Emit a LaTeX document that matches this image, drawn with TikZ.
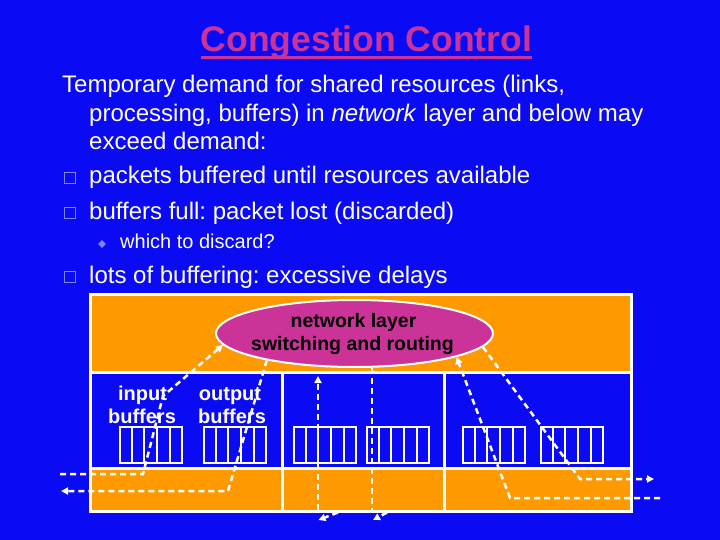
\documentclass[tikz,border=0pt]{standalone}
\usepackage{fontspec}
\setmainfont{Liberation Sans}
\usetikzlibrary{arrows.meta,shapes.geometric,calc}
\definecolor{bg}{RGB}{10,10,245}
\definecolor{orng}{RGB}{255,153,0}
\definecolor{mag}{RGB}{204,51,153}
\definecolor{bul}{RGB}{130,130,255}
\frenchspacing
\begin{document}
\begin{tikzpicture}[x=1pt,y=-1pt,
  txt/.style={anchor=base west, inner sep=0, text=white, font=\fontsize{24}{28}\selectfont},
  subtxt/.style={txt, font=\fontsize{20}{24}\selectfont},
  sq/.style={rectangle, draw=bul, line width=1.4pt, minimum size=10.5pt, inner sep=0},
  dia/.style={diamond, fill=bul, minimum size=8pt, inner sep=0},
  frame/.style={white, line width=3pt},
  bufbox/.style={rectangle, draw=white, line width=2pt, minimum width=61.5pt, minimum height=36pt, inner sep=0, anchor=north west},
  cellline/.style={white, line width=2pt},
  lbl/.style={anchor=base, inner sep=0, text=white, font=\bfseries\fontsize{20}{23}\selectfont},
  nltxt/.style={anchor=base, inner sep=0, text=black, font=\bfseries\fontsize{19.5}{23}\selectfont},
  flowplain/.style={white, line width=2.5pt, dash pattern=on 6pt off 4pt},
  flow/.style={flowplain, -{Triangle[length=7pt,width=7pt]}}
]
\useasboundingbox (0,0) rectangle (720,540);
\fill[bg] (0,0) rectangle (720,540);

% title
\node[anchor=base, inner sep=0, text=mag, font=\bfseries\fontsize{35.5}{40}\selectfont] (title) at (366.5,52) {Congestion Control};
\draw[mag, line width=2.5pt] ([yshift=-5.5pt]title.base west) -- ([yshift=-5.5pt]title.base east);

% text
\node[txt] (l1) at (62,92.5) {Temporary demand for shared resources (links,};
\node[txt] (l2) at (89,121.5) {processing, buffers) in \textit{network} layer and below may};
\node[txt] (l3) at (89,150) {exceed demand:};
\node[sq] (b1) at (70,178) {};
\node[txt] (p1) at (89,184) {packets buffered until resources available};
\node[sq] (b2) at (70,213) {};
\node[txt] (p2) at (89,219) {buffers full: packet lost (discarded)};
\node[dia] (d1) at (102,244) {};
\node[subtxt] (s1) at (120,248.5) {which to discard?};
\node[sq] (b3) at (70,277) {};
\node[txt] (p3) at (89,283) {lots of buffering: excessive delays};

% router box
\fill[orng] (90,294) rectangle (631,372);
\fill[bg] (90,372) rectangle (631,468);
\fill[orng] (90,468) rectangle (631,511);
\draw[frame] (90,294) rectangle (631,511);
\draw[frame] (90,372) -- (631,372);
\draw[frame] (90,468) -- (631,468);
\draw[frame] (282,372) -- (282,511);
\draw[frame] (444,372) -- (444,511);

% network layer ellipse
\node[ellipse, draw=white, line width=2pt, fill=mag, minimum width=277pt, minimum height=67pt, inner sep=0] (nl) at (354.5,333.5) {};
\node[nltxt] (nl1) at (353.5,327) {network layer};
\node[nltxt] (nl2) at (352.5,350.5) {switching and routing};

% buffers
\foreach \n/\x in {1/119,2/203,3/293,4/366,5/462,6/540}{
  \node[bufbox] (buf\n) at (\x,426) {};
  \foreach \k in {1,2,3,4}{
    \draw[cellline] ($(buf\n.north west)!\k/5!(buf\n.north east)$) -- ($(buf\n.south west)!\k/5!(buf\n.south east)$);
  }
}
\node[lbl] (inl1) at (142.5,400.5) {input};
\node[lbl] (inl2) at (142,423) {buffers};
\node[lbl] (outl1) at (230,400.5) {output};
\node[lbl] (outl2) at (232,423) {buffers};

% flows
\coordinate (inA) at (60,474);
\coordinate (inB) at (143,474);
\coordinate (inC) at (163,396);
\draw[flow] (inA) -- (inB) -- (inC) -- (nl.185);

\coordinate (outB) at (228,491);
\coordinate (outC) at (61,491);
\draw[flow] (nl.197) -- (outB) -- (outC);

\coordinate (v1bot) at (318,510);
\coordinate (v1top) at (318,376);
\draw[flow] (v1bot) -- (v1top);
\coordinate (v1a) at (338,512.5);
\coordinate (v1b) at (318.5,520);
\draw[flow] (v1a) -- (v1b);

\coordinate (v2bot) at (372,510);
\draw[flowplain] (nl.south -| v2bot) -- (v2bot);
\coordinate (v2a) at (387,512.5);
\coordinate (v2b) at (373,520);
\draw[flow] (v2a) -- (v2b);

\coordinate (rA) at (660,498);
\coordinate (rB) at (510,498);
\draw[flow] (rA) -- (rB) -- (nl.347);

\coordinate (roB) at (580,479);
\coordinate (roC) at (654,479);
\draw[flow] (nl.354) -- (roB) -- (roC);
\end{tikzpicture}
\end{document}
